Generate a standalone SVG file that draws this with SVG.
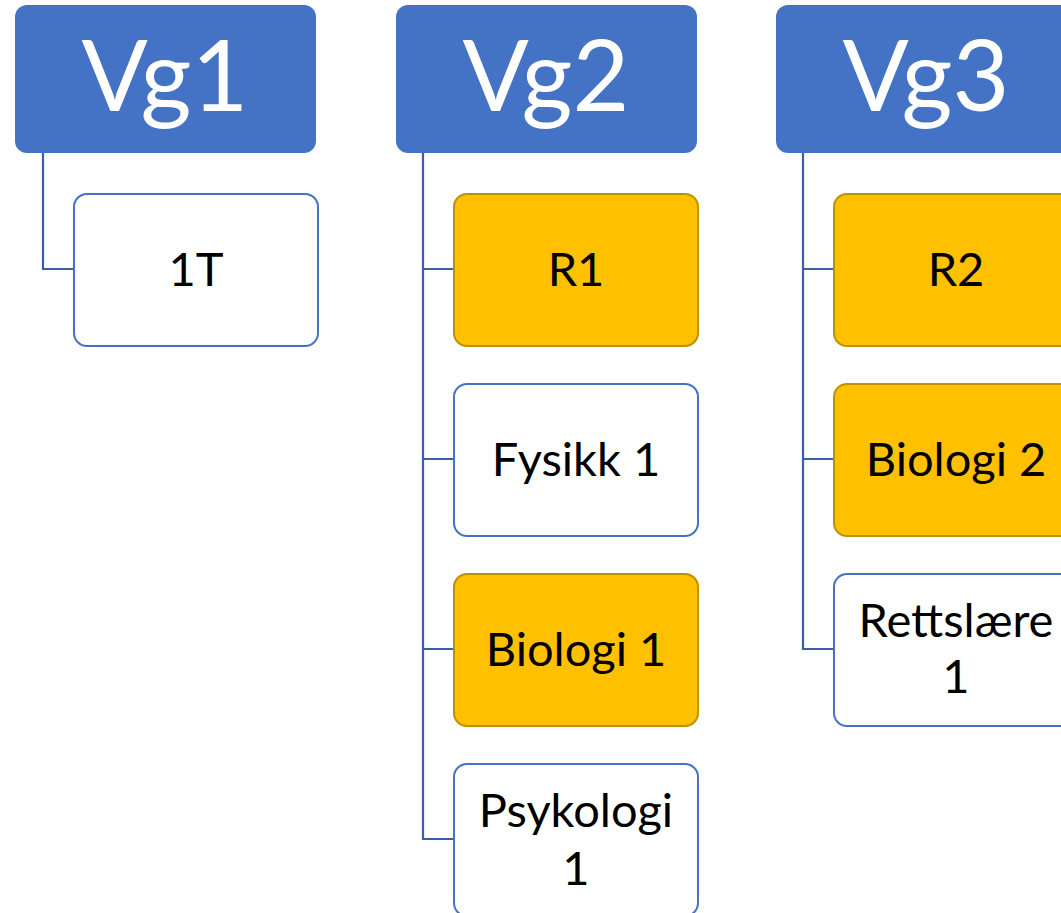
<svg xmlns="http://www.w3.org/2000/svg" width="1061" height="913" viewBox="0 0 1061 913">
<style>
.hdr{fill:#4472C4;}
.hdr-t{fill:#fff;font-family:Lato,"Open Sans",sans-serif;font-size:98px;text-anchor:middle;}
.w{fill:#fff;stroke:#4472C4;stroke-width:2;}
.y{fill:#FFC000;stroke:#BF9000;stroke-width:2;}
.t{fill:#000;font-family:Lato,"Open Sans",sans-serif;font-size:47px;text-anchor:middle;}
.c{fill:none;stroke:#3A5FA6;stroke-width:2.2;}
</style>
<rect width="1061" height="913" fill="#fff"/>
<g id="connectors">
<path class="c" d="M43,153 V269 H74"/>
<path class="c" d="M423,153 V839 H454 M423,269 H454 M423,459 H454 M423,649 H454"/>
<path class="c" d="M803,153 V649 H834 M803,269 H834 M803,459 H834"/>
</g>
<g id="vg1"><rect class="hdr" x="15" y="5" width="301" height="148" rx="12"/><text class="hdr-t" x="165" y="111">Vg1</text></g>
<g id="vg2"><rect class="hdr" x="396" y="5" width="301" height="148" rx="12"/><text class="hdr-t" x="546" y="111">Vg2</text></g>
<g id="vg3"><rect class="hdr" x="776" y="5" width="301" height="148" rx="12"/><text class="hdr-t" x="926" y="111">Vg3</text></g>
<g id="n1T"><rect class="w" x="74" y="194" width="244" height="152" rx="13"/><text class="t" x="196" y="286">1T</text></g>
<g id="nR1"><rect class="y" x="454" y="194" width="244" height="152" rx="13"/><text class="t" x="576" y="286">R1</text></g>
<g id="nFysikk1"><rect class="w" x="454" y="384" width="244" height="152" rx="13"/><text class="t" x="576" y="476">Fysikk 1</text></g>
<g id="nBiologi1"><rect class="y" x="454" y="574" width="244" height="152" rx="13"/><text class="t" x="576" y="666">Biologi 1</text></g>
<g id="nPsykologi1"><rect class="w" x="454" y="764" width="244" height="152" rx="13"/><text class="t" x="576" y="827">Psykologi</text><text class="t" x="576" y="885">1</text></g>
<g id="nR2"><rect class="y" x="834" y="194" width="244" height="152" rx="13"/><text class="t" x="956" y="286">R2</text></g>
<g id="nBiologi2"><rect class="y" x="834" y="384" width="244" height="152" rx="13"/><text class="t" x="956" y="476">Biologi 2</text></g>
<g id="nRettslaere1"><rect class="w" x="834" y="574" width="244" height="152" rx="13"/><text class="t" x="956" y="637">Rettslære</text><text class="t" x="956" y="693">1</text></g>
</svg>
